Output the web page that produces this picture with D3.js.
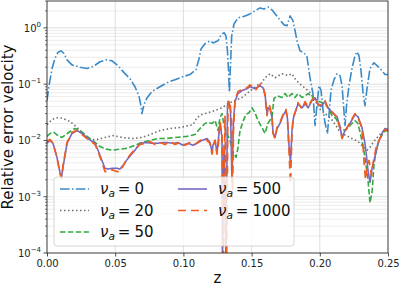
<!DOCTYPE html>
<html>
<head>
<meta charset="utf-8">
<script src="https://cdn.jsdelivr.net/npm/d3@7"></script>
<style>
  body { margin: 0; background: #fff; }
  svg { font-family: "DejaVu Sans", sans-serif; }
</style>
</head>
<body>
<div id="chart"></div>
<script>
// relative error of velocity vs z, one array of [z, error] per nu_a
const nu0 = [
  [0, 0.051], [0.0015, 0.094], [0.0037, 0.19], [0.0059, 0.29], [0.0081, 0.37], [0.0103, 0.39],
  [0.0125, 0.35], [0.0147, 0.27], [0.0183, 0.22], [0.0242, 0.20], [0.0293, 0.19], [0.0337, 0.205],
  [0.0389, 0.25], [0.0433, 0.27], [0.0477, 0.26], [0.052, 0.213], [0.0565, 0.16], [0.0609, 0.125],
  [0.0645, 0.09], [0.0674, 0.062], [0.0689, 0.041], [0.0696, 0.030], [0.0711, 0.043], [0.0733, 0.057],
  [0.077, 0.074], [0.0828, 0.09], [0.088, 0.106], [0.0938, 0.12], [0.0997, 0.136], [0.1048, 0.148],
  [0.1092, 0.18], [0.1114, 0.28], [0.1129, 0.42], [0.1158, 0.52], [0.1195, 0.59], [0.1217, 0.54],
  [0.1254, 0.59], [0.1276, 0.75], [0.1298, 0.82], [0.1312, 0.72], [0.1323, 0.39], [0.1331, 0.174],
  [0.1337, 0.071], [0.1345, 0.213], [0.1354, 0.72], [0.1371, 1.17], [0.14, 1.5], [0.1452, 1.63],
  [0.1488, 1.77], [0.1525, 2.0], [0.1562, 2.26], [0.1591, 2.17], [0.162, 2.35], [0.165, 2.08],
  [0.1679, 1.70], [0.1708, 1.38], [0.1738, 1.13], [0.176, 1.09], [0.1782, 1.63], [0.1804, 1.33],
  [0.1833, 0.59], [0.1855, 0.39], [0.1884, 0.36], [0.1906, 0.305], [0.1928, 0.13], [0.195, 0.067],
  [0.1965, 0.0184], [0.1979, 0.0415], [0.1994, 0.094], [0.2009, 0.077], [0.2023, 0.036], [0.2038, 0.0208],
  [0.2056, 0.0132], [0.2067, 0.0275], [0.2082, 0.077], [0.2104, 0.12], [0.2126, 0.153], [0.2148, 0.142],
  [0.2163, 0.094], [0.2174, 0.0415], [0.2185, 0.0184], [0.2196, 0.0415], [0.2214, 0.094], [0.2236, 0.19],
  [0.2258, 0.32], [0.2273, 0.375], [0.2287, 0.32], [0.2302, 0.174], [0.2317, 0.071], [0.2331, 0.0415],
  [0.2346, 0.083], [0.2368, 0.19], [0.2397, 0.24], [0.2427, 0.205], [0.2456, 0.174], [0.2478, 0.148],
  [0.25, 0.148]
];

const nu20 = [
  [0, 0.019], [0.0022, 0.0217], [0.0051, 0.0245], [0.0081, 0.0255], [0.0117, 0.0245], [0.0169, 0.0217],
  [0.022, 0.017], [0.0264, 0.0133], [0.0315, 0.0104], [0.0367, 0.0104], [0.0425, 0.0113], [0.0484, 0.0122],
  [0.055, 0.0113], [0.0623, 0.0108], [0.0696, 0.0113], [0.0755, 0.0127], [0.0828, 0.015], [0.0902, 0.0163],
  [0.0975, 0.017], [0.107, 0.019], [0.11, 0.0255], [0.1136, 0.029], [0.118, 0.031], [0.1232, 0.034],
  [0.1283, 0.038], [0.1327, 0.045], [0.1378, 0.051], [0.143, 0.058], [0.1474, 0.071], [0.151, 0.083],
  [0.1547, 0.097], [0.1576, 0.106], [0.1598, 0.13], [0.1635, 0.153], [0.1672, 0.13], [0.1723, 0.153],
  [0.1767, 0.142], [0.1796, 0.153], [0.1818, 0.125], [0.1855, 0.10], [0.1892, 0.085], [0.1928, 0.071],
  [0.1965, 0.051], [0.2001, 0.036], [0.2038, 0.030], [0.2082, 0.0245], [0.2119, 0.0184], [0.2148, 0.0139],
  [0.2192, 0.0122], [0.2236, 0.0108], [0.228, 0.0096], [0.2317, 0.0078], [0.2346, 0.0067], [0.2368, 0.0075],
  [0.2397, 0.0096], [0.2427, 0.0117], [0.2463, 0.0144], [0.25, 0.017]
];

const nu50 = [
  [0, 0.0118], [0.0022, 0.0133], [0.0051, 0.0139], [0.0081, 0.0122], [0.011, 0.0113], [0.0139, 0.0127],
  [0.0169, 0.0144], [0.0205, 0.0163], [0.0242, 0.015], [0.0279, 0.0127], [0.0315, 0.0108], [0.0352, 0.0092],
  [0.0389, 0.0078], [0.0433, 0.007], [0.0477, 0.0067], [0.0535, 0.007], [0.0594, 0.0073], [0.0645, 0.0082],
  [0.0696, 0.0092], [0.0755, 0.010], [0.0814, 0.0108], [0.0872, 0.0108], [0.0938, 0.0113], [0.1026, 0.0118],
  [0.1085, 0.0127], [0.1122, 0.0163], [0.1158, 0.020], [0.118, 0.0208], [0.121, 0.020], [0.1232, 0.0226],
  [0.1254, 0.015], [0.1268, 0.0255], [0.1283, 0.030], [0.1298, 0.0184], [0.132, 0.0133], [0.1342, 0.010],
  [0.1364, 0.0062], [0.1386, 0.005], [0.14, 0.0073], [0.1415, 0.015], [0.1437, 0.0217], [0.1459, 0.029],
  [0.1481, 0.031], [0.1503, 0.038], [0.1525, 0.031], [0.1547, 0.0226], [0.1576, 0.017], [0.1598, 0.0133],
  [0.162, 0.020], [0.165, 0.0265], [0.1664, 0.0555], [0.1686, 0.062], [0.1723, 0.058], [0.1745, 0.068],
  [0.1767, 0.058], [0.1796, 0.068], [0.1818, 0.058], [0.184, 0.068], [0.187, 0.058], [0.1892, 0.062],
  [0.1914, 0.068], [0.195, 0.058], [0.1979, 0.051], [0.2016, 0.047], [0.2053, 0.0415], [0.209, 0.0275],
  [0.2119, 0.0245], [0.2148, 0.017], [0.2185, 0.015], [0.2221, 0.0184], [0.2258, 0.0226], [0.228, 0.020],
  [0.2309, 0.010], [0.2331, 0.005], [0.2353, 0.002], [0.2368, 0.00078], [0.2383, 0.0012], [0.2397, 0.0036],
  [0.2412, 0.0067], [0.2434, 0.010], [0.2463, 0.0133], [0.25, 0.0163]
];

const nu500 = [
  [0, 0.0089], [0.0022, 0.010], [0.0044, 0.0089], [0.0073, 0.005], [0.0095, 0.0027], [0.0106, 0.0022],
  [0.0117, 0.0033], [0.0147, 0.0089], [0.0183, 0.0133], [0.022, 0.015], [0.0257, 0.0133], [0.0301, 0.0108],
  [0.0352, 0.0089], [0.0374, 0.0067], [0.0403, 0.0044], [0.0425, 0.0032], [0.0447, 0.0031], [0.0477, 0.0032],
  [0.0513, 0.0032], [0.0535, 0.0031], [0.0557, 0.0036], [0.0594, 0.0048], [0.0645, 0.0067], [0.0682, 0.0089],
  [0.0718, 0.0092], [0.077, 0.0089], [0.0814, 0.0089], [0.085, 0.0092], [0.088, 0.0092], [0.0924, 0.0089],
  [0.096, 0.0092], [0.0997, 0.0082], [0.1034, 0.0089], [0.107, 0.0082], [0.11, 0.0089], [0.1136, 0.010],
  [0.1173, 0.0108], [0.1195, 0.0092], [0.121, 0.0062], [0.1217, 0.0082], [0.1232, 0.010], [0.1246, 0.0062],
  [0.1254, 0.0089], [0.1268, 0.020], [0.1283, 0.0113], [0.1286, 0.00007], [0.1298, 0.0082], [0.1312, 0.00007],
  [0.1323, 0.0415], [0.1334, 0.049], [0.1345, 0.034], [0.1356, 0.0018], [0.1367, 0.0208], [0.1378, 0.049],
  [0.14, 0.068], [0.143, 0.077], [0.1466, 0.083], [0.1488, 0.09], [0.151, 0.086], [0.1525, 0.083],
  [0.1562, 0.094], [0.1584, 0.086], [0.1598, 0.068], [0.1613, 0.030], [0.162, 0.038], [0.1635, 0.036],
  [0.165, 0.0255], [0.1657, 0.0139], [0.1672, 0.0113], [0.1686, 0.016], [0.1708, 0.020], [0.173, 0.0275],
  [0.1752, 0.034], [0.1763, 0.0245], [0.1774, 0.0082], [0.1785, 0.0040], [0.1796, 0.015], [0.1807, 0.0255],
  [0.1818, 0.030], [0.184, 0.045], [0.187, 0.038], [0.1892, 0.045], [0.1914, 0.038], [0.1943, 0.051],
  [0.1965, 0.057], [0.1987, 0.045], [0.2009, 0.040], [0.2038, 0.049], [0.206, 0.038], [0.2097, 0.030],
  [0.2126, 0.0265], [0.2148, 0.0177], [0.2163, 0.0113], [0.2185, 0.015], [0.2221, 0.020], [0.2258, 0.0287],
  [0.228, 0.0265], [0.2309, 0.017], [0.2331, 0.0089], [0.2342, 0.0054], [0.2353, 0.003], [0.2368, 0.0018],
  [0.2383, 0.0032], [0.2397, 0.0044], [0.2412, 0.006], [0.2427, 0.0089], [0.2456, 0.0133], [0.2478, 0.0163],
  [0.25, 0.015]
];

const nu1000 = [
  [0, 0.0096], [0.0022, 0.0104], [0.0044, 0.0089], [0.0073, 0.005], [0.0095, 0.0026], [0.0106, 0.0021],
  [0.0117, 0.0035], [0.0147, 0.0092], [0.0183, 0.0139], [0.022, 0.015], [0.0257, 0.0127], [0.0301, 0.0104],
  [0.0352, 0.0085], [0.0374, 0.0064], [0.0403, 0.0041], [0.0425, 0.0028], [0.0447, 0.0028], [0.0477, 0.003],
  [0.0513, 0.0028], [0.0535, 0.0028], [0.0557, 0.0035], [0.0594, 0.005], [0.0645, 0.007], [0.0682, 0.0085],
  [0.0718, 0.0089], [0.0755, 0.0096], [0.0792, 0.0085], [0.0828, 0.0092], [0.0865, 0.0085], [0.0902, 0.0096],
  [0.0938, 0.0085], [0.0975, 0.0092], [0.1012, 0.0082], [0.1048, 0.0092], [0.1085, 0.0085], [0.1122, 0.010],
  [0.1158, 0.0108], [0.1195, 0.0089], [0.121, 0.0057], [0.122, 0.0082], [0.1232, 0.010], [0.1246, 0.0057],
  [0.1257, 0.0089], [0.1268, 0.0217], [0.1283, 0.0122], [0.1293, 0.00007], [0.1305, 0.0275], [0.1317, 0.00007],
  [0.1327, 0.051], [0.1342, 0.045], [0.1353, 0.0226], [0.136, 0.00096], [0.1367, 0.015], [0.1378, 0.051],
  [0.14, 0.074], [0.143, 0.080], [0.1466, 0.086], [0.1488, 0.097], [0.151, 0.090], [0.1532, 0.080],
  [0.1562, 0.10], [0.1584, 0.09], [0.1598, 0.062], [0.1613, 0.0275], [0.1624, 0.043], [0.1635, 0.040],
  [0.165, 0.0245], [0.1657, 0.0133], [0.1672, 0.0108], [0.1686, 0.017], [0.1708, 0.0208], [0.173, 0.0287],
  [0.1752, 0.0355], [0.1763, 0.0226], [0.1774, 0.0067], [0.1785, 0.0017], [0.1796, 0.0139], [0.1807, 0.0265],
  [0.1818, 0.031], [0.184, 0.047], [0.187, 0.036], [0.1892, 0.049], [0.1914, 0.040], [0.1943, 0.053],
  [0.1965, 0.060], [0.1987, 0.043], [0.2009, 0.043], [0.2038, 0.051], [0.206, 0.036], [0.2097, 0.031],
  [0.2126, 0.0255], [0.2148, 0.0163], [0.2163, 0.0108], [0.2185, 0.0144], [0.2221, 0.0208], [0.2258, 0.030],
  [0.228, 0.0255], [0.2309, 0.0163], [0.2324, 0.0044], [0.2335, 0.002], [0.235, 0.0036], [0.2361, 0.0044],
  [0.2379, 0.0024], [0.2394, 0.0044], [0.2412, 0.0073], [0.2434, 0.010], [0.2456, 0.0127], [0.2478, 0.0156],
  [0.25, 0.0144]
];

const nuLabels = ['0', '20', '50', '500', '1000'];
const xTicks = [0, 0.05, 0.1, 0.15, 0.2, 0.25];
const yTickExps = [-4, -3, -2, -1, 0];

const width = 399;
const height = 287;
const margin = { top: 1, right: 11, bottom: 34, left: 47 };
const graphWidth = width - margin.left - margin.right;
const graphHeight = height - margin.top - margin.bottom;

const series = [
  { data: nu0, label: nuLabels[0], color: '#3a8ac8', width: 1.6, dash: '9.6,2.4,1.5,2.4' },
  { data: nu20, label: nuLabels[1], color: '#707070', width: 1.6, dash: '1.5,2.5' },
  { data: nu50, label: nuLabels[2], color: '#33a844', width: 1.6, dash: '5.5,2.4' },
  { data: nu500, label: nuLabels[3], color: '#7868c0', width: 1.6, dash: null },
  { data: nu1000, label: nuLabels[4], color: '#ee5c1e', width: 1.7, dash: '8,5' }
];

const svg = d3.select('#chart').append('svg').attr('width', width).attr('height', height);

const xScale = d3.scaleLinear().domain([0, 0.25]).range([0, graphWidth]);
const yScale = d3.scaleLog().domain([1e-4, 3]).range([graphHeight, 0]);

const graph = svg.append('g').attr('transform', `translate(${margin.left}, ${margin.top})`);

svg.append('defs').append('clipPath').attr('id', 'plotClip')
  .append('rect').attr('width', graphWidth).attr('height', graphHeight);

// minor + major grid
const minorTicks = [];
for (let e = -4; e <= 0; e++) {
  for (let m = 2; m <= 9; m++) {
    const v = m * Math.pow(10, e);
    if (v <= 3) minorTicks.push(v);
  }
}
const majorTicks = yTickExps.map((e) => Math.pow(10, e));

graph.append('g').selectAll('line').data(minorTicks).enter().append('line')
  .attr('x1', 0).attr('x2', graphWidth)
  .attr('y1', (d) => yScale(d)).attr('y2', (d) => yScale(d))
  .attr('stroke', '#e4e4e4').attr('stroke-width', 0.7);

graph.append('g').selectAll('line').data(majorTicks).enter().append('line')
  .attr('x1', 0).attr('x2', graphWidth)
  .attr('y1', (d) => yScale(d)).attr('y2', (d) => yScale(d))
  .attr('stroke', '#d6d6d6').attr('stroke-width', 0.8);

graph.append('g').selectAll('line').data(xTicks).enter().append('line')
  .attr('x1', (d) => xScale(d)).attr('x2', (d) => xScale(d))
  .attr('y1', 0).attr('y2', graphHeight)
  .attr('stroke', '#d6d6d6').attr('stroke-width', 0.8);

// curves
const line = d3.line()
  .x((d) => xScale(d[0]))
  .y((d) => yScale(d[1]));

const lines = graph.append('g').attr('clip-path', 'url(#plotClip)');
series.forEach((s) => {
  lines.append('path')
    .datum(s.data)
    .attr('fill', 'none')
    .attr('stroke', s.color)
    .attr('stroke-width', s.width)
    .attr('stroke-dasharray', s.dash)
    .attr('stroke-linejoin', 'round')
    .attr('d', line);
});

// axes
const xAxis = graph.append('g')
  .attr('transform', `translate(0, ${graphHeight})`)
  .call(d3.axisBottom(xScale).tickValues(xTicks).tickFormat(d3.format('.2f')).tickSize(3.5).tickPadding(3.5));
xAxis.select('.domain').remove();
xAxis.selectAll('text').attr('font-size', 10).attr('fill', '#222').attr('font-family', 'DejaVu Sans');
xAxis.selectAll('line').attr('stroke', '#222').attr('stroke-width', 0.8);

const yAxis = graph.append('g');
yAxis.selectAll('.minor').data(minorTicks).enter().append('line')
  .attr('x1', -2).attr('x2', 0)
  .attr('y1', (d) => yScale(d)).attr('y2', (d) => yScale(d))
  .attr('stroke', '#222').attr('stroke-width', 0.6);
yAxis.selectAll('.major').data(yTickExps).enter().append('line')
  .attr('x1', -3.5).attr('x2', 0)
  .attr('y1', (d) => yScale(Math.pow(10, d))).attr('y2', (d) => yScale(Math.pow(10, d)))
  .attr('stroke', '#222').attr('stroke-width', 0.8);

const yLabels = yAxis.selectAll('.ylab').data(yTickExps).enter().append('text')
  .attr('x', -6)
  .attr('y', (d) => yScale(Math.pow(10, d)) + 4)
  .attr('text-anchor', 'end')
  .attr('font-size', 10)
  .attr('fill', '#222');
yLabels.append('tspan').text('10');
yLabels.append('tspan')
  .attr('dy', -5)
  .attr('font-size', 7)
  .text((d) => (d < 0 ? '\u2212' + Math.abs(d) : String(d)));

// frame
graph.append('rect')
  .attr('width', graphWidth).attr('height', graphHeight)
  .attr('fill', 'none').attr('stroke', '#222').attr('stroke-width', 0.8);

// axis titles
svg.append('text')
  .attr('transform', `translate(13, ${margin.top + graphHeight / 2}) rotate(-90)`)
  .attr('text-anchor', 'middle')
  .attr('font-size', 15)
  .attr('fill', '#111')
  .text('Relative error velocity');

svg.append('text')
  .attr('x', margin.left + graphWidth / 2)
  .attr('y', 283)
  .attr('text-anchor', 'middle')
  .attr('font-size', 15)
  .attr('fill', '#111')
  .text('z');

// legend
const legend = svg.append('g');
legend.append('rect')
  .attr('x', 54).attr('y', 177).attr('width', 240).attr('height', 69)
  .attr('rx', 3)
  .attr('fill', 'white').attr('fill-opacity', 0.8)
  .attr('stroke', '#cccccc').attr('stroke-width', 0.8);

const legendPos = [
  { x: 60, y: 194 }, { x: 60, y: 215.5 }, { x: 60, y: 237 },
  { x: 178, y: 194 }, { x: 178, y: 215.5 }
];

series.forEach((s, i) => {
  const p = legendPos[i];
  const g = legend.append('g');
  g.append('line')
    .attr('x1', p.x).attr('x2', p.x + 29)
    .attr('y1', p.y - 5).attr('y2', p.y - 5)
    .attr('stroke', s.color).attr('stroke-width', s.width)
    .attr('stroke-dasharray', s.dash);
  const t = g.append('text')
    .attr('x', p.x + 40).attr('y', p.y)
    .attr('font-size', 15).attr('fill', '#111');
  t.append('tspan').attr('font-style', 'italic').text('\u03bd');
  t.append('tspan').attr('font-style', 'italic').attr('font-size', 10.5).attr('dy', 3).text('a');
  t.append('tspan').attr('dy', -3).attr('dx', 3).text('=');
  t.append('tspan').attr('dx', 4).text(s.label);
});
</script>
</body>
</html>
